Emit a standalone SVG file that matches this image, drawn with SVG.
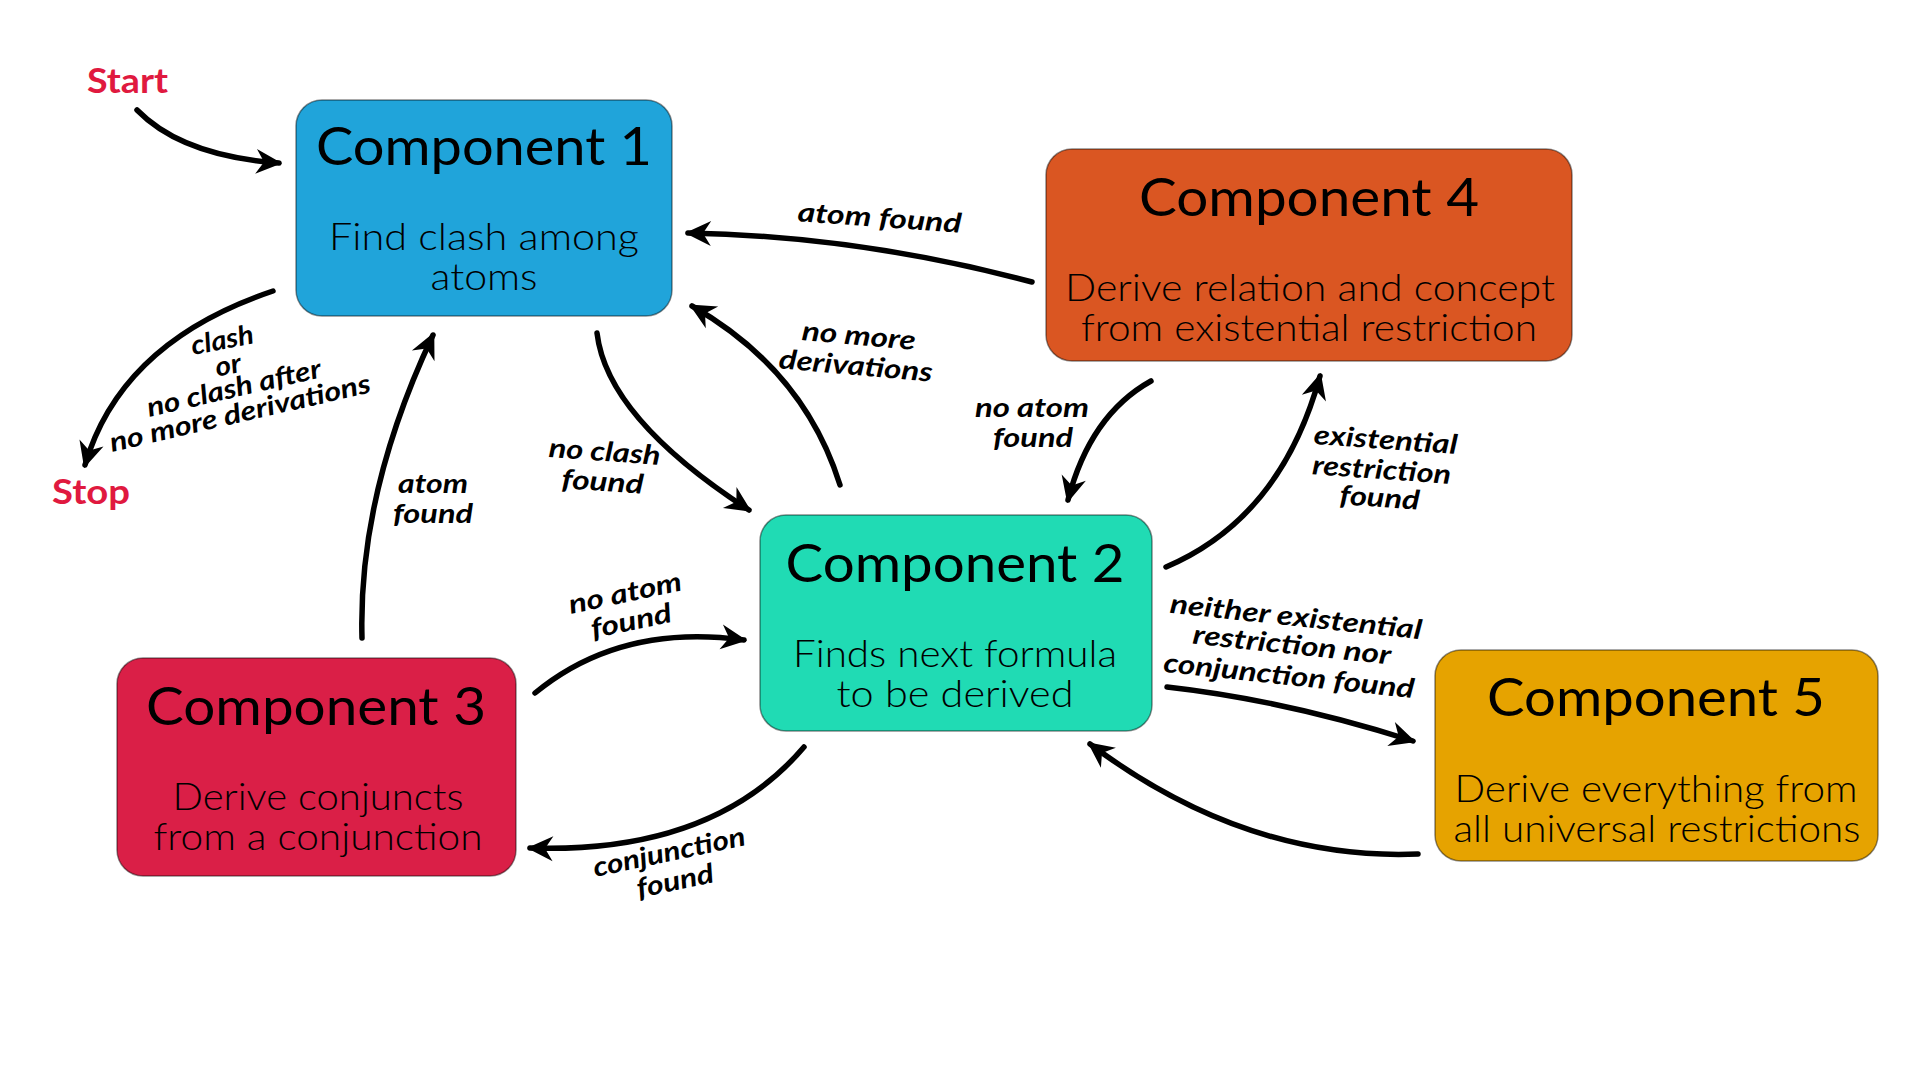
<svg xmlns="http://www.w3.org/2000/svg" width="1920" height="1080" viewBox="0 0 1920 1080">
<defs>
<style>
.box{stroke:rgba(0,0,0,0.45);stroke-width:1.5}
.title{font-family:Lato,"Liberation Sans",sans-serif;font-size:53px;font-weight:400;fill:#000;text-anchor:middle}
.body{font-family:Lato,"Liberation Sans",sans-serif;font-size:37px;font-weight:300;fill:#000;text-anchor:middle}
.lbl{font-family:Lato,"Liberation Sans",sans-serif;font-size:27px;font-weight:700;font-style:italic;fill:#000;text-anchor:middle}
.term{font-family:Lato,"Liberation Sans",sans-serif;font-size:34px;font-weight:700;fill:#E0193F;text-anchor:middle}
.edge{fill:none;stroke:#000;stroke-width:5.5;stroke-linecap:round;marker-end:url(#ah)}
</style>
<marker id="ah" markerUnits="userSpaceOnUse" markerWidth="40" markerHeight="30" viewBox="-30 -15 40 30" refX="0" refY="0" orient="auto">
<path d="M3,0 L-23,-12.5 L-15,0 L-23,12.5 Z" fill="#000"/>
</marker>
</defs>
<rect width="1920" height="1080" fill="#fff"/>

<g id="start"><text class="term" x="127.5" y="93" textLength="81" lengthAdjust="spacingAndGlyphs">Start</text></g>
<g id="stop"><text class="term" x="91" y="504" textLength="78" lengthAdjust="spacingAndGlyphs">Stop</text></g>

<g id="component1">
<rect class="box" x="296" y="100" width="376" height="216" rx="26" fill="#20A4DA"/>
<text class="title" x="484" y="165" textLength="336" lengthAdjust="spacingAndGlyphs">Component 1</text>
<text class="body" x="484" y="250" textLength="310" lengthAdjust="spacingAndGlyphs">Find clash among</text>
<text class="body" x="484" y="290" textLength="107" lengthAdjust="spacingAndGlyphs">atoms</text>
</g>

<g id="component2">
<rect class="box" x="760" y="515" width="392" height="216" rx="26" fill="#20DBB4"/>
<text class="title" x="955" y="582" textLength="339" lengthAdjust="spacingAndGlyphs">Component 2</text>
<text class="body" x="955" y="667" textLength="324" lengthAdjust="spacingAndGlyphs">Finds next formula</text>
<text class="body" x="955" y="707" textLength="237" lengthAdjust="spacingAndGlyphs">to be derived</text>
</g>

<g id="component3">
<rect class="box" x="117" y="658" width="399" height="218" rx="26" fill="#DA1F47"/>
<text class="title" x="316" y="725" textLength="340" lengthAdjust="spacingAndGlyphs">Component 3</text>
<text class="body" x="318" y="810" textLength="291" lengthAdjust="spacingAndGlyphs">Derive conjuncts</text>
<text class="body" x="318" y="850" textLength="329" lengthAdjust="spacingAndGlyphs">from a conjunction</text>
</g>

<g id="component4">
<rect class="box" x="1046" y="149" width="526" height="212" rx="26" fill="#DA5622"/>
<text class="title" x="1309" y="216" textLength="340" lengthAdjust="spacingAndGlyphs">Component 4</text>
<text class="body" x="1310" y="301" textLength="490" lengthAdjust="spacingAndGlyphs">Derive relation and concept</text>
<text class="body" x="1309" y="341" textLength="456" lengthAdjust="spacingAndGlyphs">from existential restriction</text>
</g>

<g id="component5">
<rect class="box" x="1435" y="650" width="443" height="211" rx="26" fill="#E6A300"/>
<text class="title" x="1656" y="716" textLength="338" lengthAdjust="spacingAndGlyphs">Component 5</text>
<text class="body" x="1656" y="802" textLength="403" lengthAdjust="spacingAndGlyphs">Derive everything from</text>
<text class="body" x="1657" y="842" textLength="407" lengthAdjust="spacingAndGlyphs">all universal restrictions</text>
</g>

<g id="connectors">
<path class="edge" d="M137,110 Q182,156 279,163"/>
<path class="edge" d="M273,291 Q121,342 85,465"/>
<path class="edge" d="M362,638 Q358,494 433,335"/>
<path class="edge" d="M597,333 Q607,418 749,510"/>
<path class="edge" d="M840,485 Q804,370 692,306"/>
<path class="edge" d="M1032,282 Q860,236 688,233"/>
<path class="edge" d="M1151,381 Q1090,415 1068,500"/>
<path class="edge" d="M1166,567 Q1281,518 1320,376"/>
<path class="edge" d="M1167,687 Q1284,700 1413,741"/>
<path class="edge" d="M1418,854 Q1246,861 1090,744"/>
<path class="edge" d="M804,747 Q713,854 530,848"/>
<path class="edge" d="M535,693 Q620,623 744,640"/>
</g>

<g id="labels">
<text class="lbl" x="224" y="349" transform="rotate(-11 224 349)" textLength="63" lengthAdjust="spacingAndGlyphs">clash</text>
<text class="lbl" x="230" y="374" transform="rotate(-12 230 374)" textLength="26" lengthAdjust="spacingAndGlyphs">or</text>
<text class="lbl" x="236" y="397" transform="rotate(-13 236 397)" textLength="178" lengthAdjust="spacingAndGlyphs">no clash after</text>
<text class="lbl" x="242" y="422" transform="rotate(-13 242 422)" textLength="267" lengthAdjust="spacingAndGlyphs">no more derivations</text>

<text class="lbl" x="433" y="493" textLength="70" lengthAdjust="spacingAndGlyphs">atom</text>
<text class="lbl" x="433" y="523" textLength="80" lengthAdjust="spacingAndGlyphs">found</text>

<text class="lbl" x="604" y="461" transform="rotate(4 604 461)" textLength="112" lengthAdjust="spacingAndGlyphs">no clash</text>
<text class="lbl" x="602" y="491" transform="rotate(4 602 491)" textLength="82" lengthAdjust="spacingAndGlyphs">found</text>

<text class="lbl" x="858" y="345" transform="rotate(5 858 345)" textLength="114" lengthAdjust="spacingAndGlyphs">no more</text>
<text class="lbl" x="855" y="375" transform="rotate(5 855 375)" textLength="154" lengthAdjust="spacingAndGlyphs">derivations</text>

<text class="lbl" x="879" y="227" transform="rotate(4 879 227)" textLength="164" lengthAdjust="spacingAndGlyphs">atom found</text>

<text class="lbl" x="1032" y="417" textLength="114" lengthAdjust="spacingAndGlyphs">no atom</text>
<text class="lbl" x="1033" y="447" textLength="80" lengthAdjust="spacingAndGlyphs">found</text>

<text class="lbl" x="1385" y="449" transform="rotate(4 1385 449)" textLength="144" lengthAdjust="spacingAndGlyphs">existential</text>
<text class="lbl" x="1381" y="479" transform="rotate(4 1381 479)" textLength="139" lengthAdjust="spacingAndGlyphs">restriction</text>
<text class="lbl" x="1379" y="507" transform="rotate(4 1379 507)" textLength="80" lengthAdjust="spacingAndGlyphs">found</text>

<text class="lbl" x="1295" y="626" transform="rotate(6 1295 626)" textLength="253" lengthAdjust="spacingAndGlyphs">neither existential</text>
<text class="lbl" x="1291" y="654" transform="rotate(6 1291 654)" textLength="199" lengthAdjust="spacingAndGlyphs">restriction nor</text>
<text class="lbl" x="1288" y="685" transform="rotate(6 1288 685)" textLength="252" lengthAdjust="spacingAndGlyphs">conjunction found</text>

<text class="lbl" x="627" y="602" transform="rotate(-12 627 602)" textLength="115" lengthAdjust="spacingAndGlyphs">no atom</text>
<text class="lbl" x="633" y="630" transform="rotate(-12 633 630)" textLength="82" lengthAdjust="spacingAndGlyphs">found</text>

<text class="lbl" x="671" y="861" transform="rotate(-12 671 861)" textLength="155" lengthAdjust="spacingAndGlyphs">conjunction</text>
<text class="lbl" x="677" y="890" transform="rotate(-12 677 890)" textLength="78" lengthAdjust="spacingAndGlyphs">found</text>
</g>
</svg>
